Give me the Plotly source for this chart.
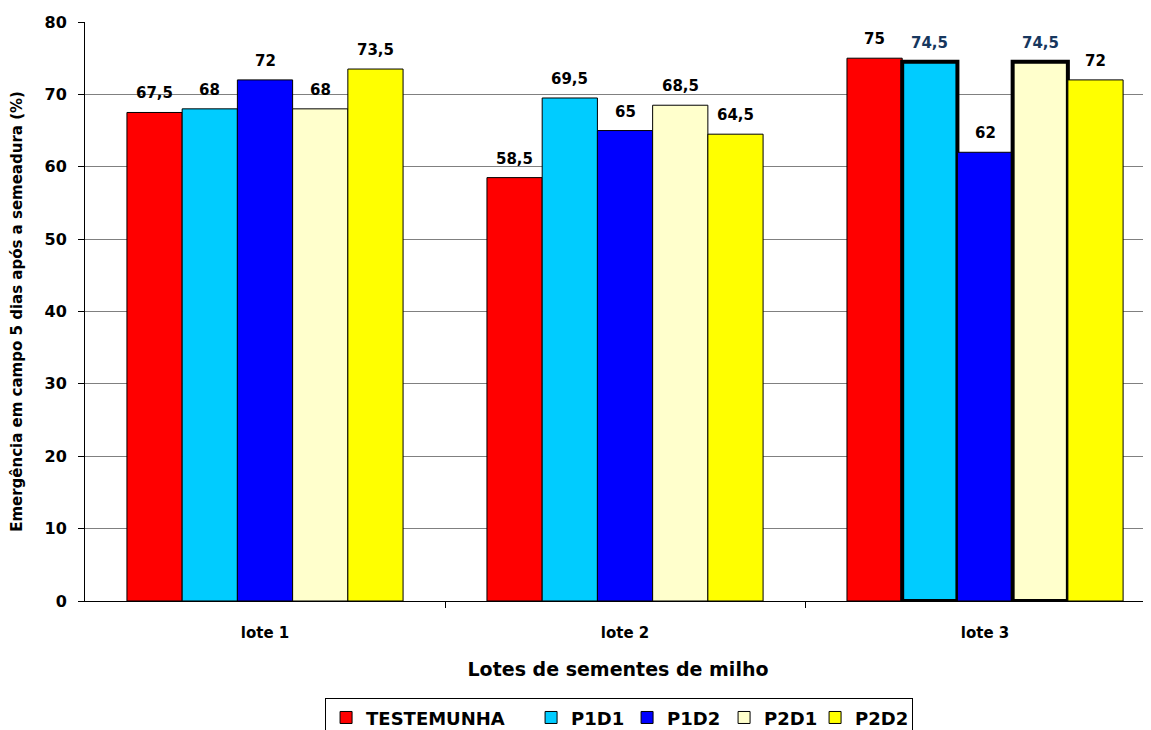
import plotly.graph_objects as go

categories = ["lote 1", "lote 2", "lote 3"]
series_names = ["TESTEMUNHA", "P1D1", "P1D2", "P2D1", "P2D2"]
testemunha = [67.5, 58.5, 75]
p1d1 = [68, 69.5, 74.5]
p1d2 = [72, 65, 62]
p2d1 = [68, 68.5, 74.5]
p2d2 = [73.5, 64.5, 72]
y_ticks = [0, 10, 20, 30, 40, 50, 60, 70, 80]

series_values = [testemunha, p1d1, p1d2, p2d1, p2d2]
colors = ["#FF0000", "#00CCFF", "#0000FF", "#FFFFCC", "#FFFF00"]
legend_widths = [160, 51, 52, 46, 52]
# emphasised bars (thick outline, dark-blue label)
emph = {"P1D1": [False, False, True], "P2D1": [False, False, True]}

FONT = "DejaVu Sans, Liberation Sans, Arial, sans-serif"
BARGAP = 0.233

def fmt(v):
    return ("%g" % v).replace(".", ",")

fig = go.Figure()
n = len(series_names)
bw = (1 - BARGAP) / n
annotations = []
for i, (name, vals, col, lw) in enumerate(zip(series_names, series_values, colors, legend_widths)):
    e = emph.get(name, [False] * len(vals))
    fig.add_trace(go.Bar(
        name="<b>" + name + "</b>",
        x=list(range(len(categories))),
        y=vals,
        marker=dict(color=col,
                    line=dict(color="black", width=[4 if k else 1 for k in e])),
        legendwidth=lw,
    ))
    for j, v in enumerate(vals):
        annotations.append(dict(
            x=j + (i - (n - 1) / 2) * bw, y=v, xref="x", yref="y",
            text="<b>" + fmt(v) + "</b>", showarrow=False,
            yanchor="bottom", yshift=8,
            font=dict(family=FONT, size=15,
                      color="#17375E" if e[j] else "black"),
        ))

# page body has an 8px margin: figure is 8px smaller than window on each axis
fig.update_layout(
    width=1143, height=722,
    margin=dict(l=77, r=0, t=14, b=129, autoexpand=False),
    paper_bgcolor="white", plot_bgcolor="white",
    barmode="group", bargap=BARGAP, bargroupgap=0,
    font=dict(family=FONT, color="black"),
    annotations=annotations,
    xaxis=dict(
        range=[-0.5, 2.461], automargin=False,
        tickvals=list(range(len(categories))), ticktext=categories,
        showline=True, linecolor="black", linewidth=1,
        ticks="", showgrid=False, zeroline=False,
        ticklabelstandoff=18,
        tickfont=dict(family=FONT, size=15, color="black", weight="bold"),
        title=dict(text="Lotes de sementes de milho",
                   font=dict(family=FONT, size=19, color="black", weight="bold"),
                   standoff=21),
    ),
    xaxis2=dict(
        overlaying="x", matches="x", range=[-0.5, 2.461],
        tickvals=[0.5, 1.5, 2.5], showticklabels=False,
        ticks="outside", ticklen=6, tickcolor="black",
        showgrid=False, zeroline=False, showline=False,
    ),
    yaxis=dict(
        range=[0, 80], tickvals=y_ticks, automargin=False,
        showline=True, linecolor="black", linewidth=1,
        ticks="outside", ticklen=6, tickcolor="black",
        showgrid=True, gridcolor="#808080", gridwidth=1,
        zeroline=False, ticklabelstandoff=8,
        tickfont=dict(family=FONT, size=16, color="black", weight="bold"),
        title=dict(text="Emergência em campo 5 dias após a semeadura (%)",
                   font=dict(family=FONT, size=15, color="black", weight="bold"),
                   standoff=25),
    ),
    legend=dict(
        orientation="h", x=0.2252, xanchor="left", y=-0.168, yanchor="top",
        bordercolor="black", borderwidth=1,
        font=dict(family=FONT, size=18, color="black", weight="bold"),
        itemwidth=30, tracegroupgap=0,
    ),
)
# invisible trace to anchor the boundary tick axis
fig.add_trace(go.Scatter(x=[0.5], y=[0], xaxis="x2", mode="markers",
                         marker=dict(opacity=0), showlegend=False, hoverinfo="skip"))

fig.write_html("out.html")
